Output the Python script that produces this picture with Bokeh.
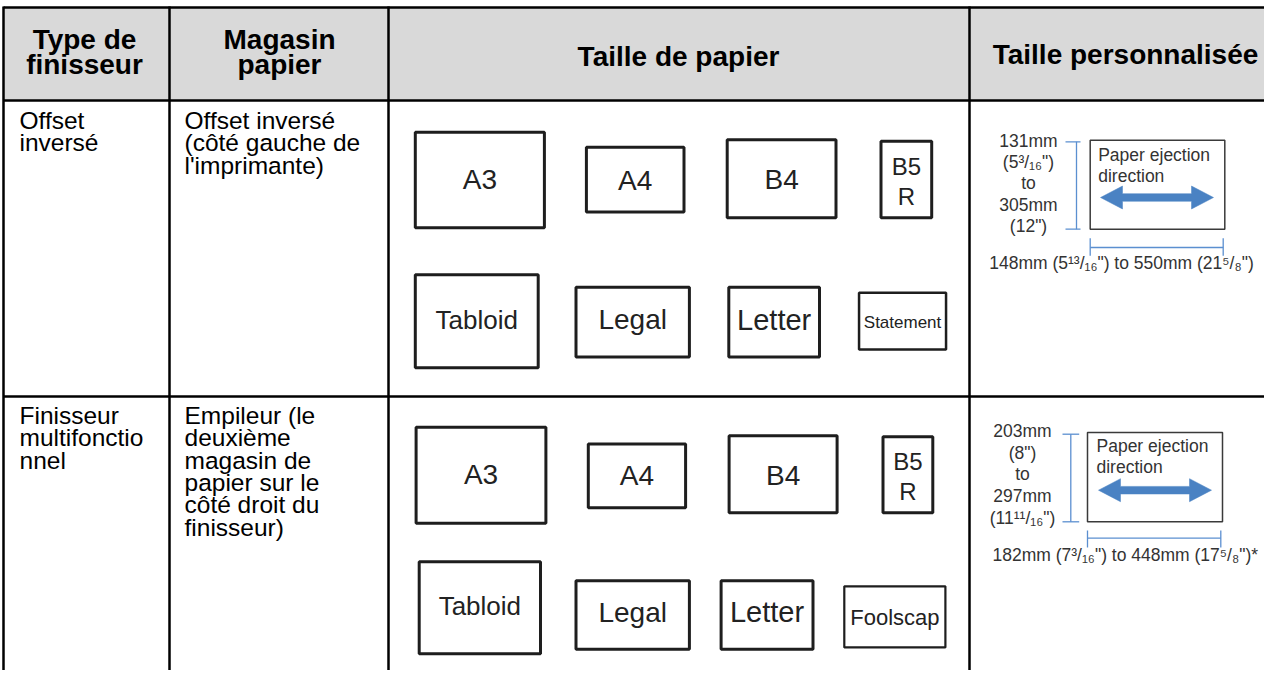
from bokeh.plotting import figure
from bokeh.models import Range1d, ColumnDataSource
from bokeh.core.properties import value
from bokeh.embed import file_html
from bokeh.resources import INLINE

# ---------------- data ----------------
header_lines = [["Type de", "finisseur"], ["Magasin", "papier"],
                ["Taille de papier"], ["Taille personnalisée"]]
finisher_types = [["Offset", "inversé"], ["Finisseur", "multifonctio", "nnel"]]
paper_trays = [["Offset inversé", "(côté gauche de", "l'imprimante)"],
               ["Empileur (le", "deuxième", "magasin de", "papier sur le",
                "côté droit du", "finisseur)"]]
paper_sizes = [["A3", "A4", "B4", "B5\nR", "Tabloid", "Legal", "Letter", "Statement"],
               ["A3", "A4", "B4", "B5\nR", "Tabloid", "Legal", "Letter", "Foolscap"]]
custom_height_text = [["131mm", "(5³/₁₆\")", "to", "305mm", "(12\")"],
                      ["203mm", "(8\")", "to", "297mm", "(11¹¹/₁₆\")"]]
custom_width_text = ["148mm (5¹³/₁₆\") to 550mm (21⁵/₈\")",
                     "182mm (7³/₁₆\") to 448mm (17⁵/₈\")*"]
ejection_text = ["Paper ejection", "direction"]

# ---------------- layout (pixel positions of the table) ----------------
TABLE_LEFT, TABLE_RIGHT = 11, 1290
ROW_LINES = [15, 108, 404]
COL_LINES = [11, 177, 396, 977]
TABLE_BOTTOM = 700

# paper boxes (left, right, top, bottom) per row
box_left = [[421.3, 592.4, 733.2, 887.0, 421.3, 582.0, 734.8, 865.3],
            [422.1, 594.3, 735.1, 889.0, 425.2, 582.0, 727.1, 850.7]]
box_right = [[553.4, 693.0, 845.0, 940.7, 547.2, 698.4, 828.5, 954.8],
             [554.9, 694.6, 846.1, 941.8, 549.5, 698.4, 822.0, 954.0]]
box_top = [[138.3, 153.3, 145.7, 147.3, 280.7, 293.3, 293.3, 299.0],
           [433.3, 450.0, 441.7, 442.7, 567.7, 586.7, 586.7, 592.7]]
box_bottom = [[236.7, 221.0, 226.7, 226.7, 376.7, 366.0, 366.0, 358.3],
              [532.3, 516.7, 521.7, 521.7, 662.7, 658.3, 658.3, 656.0]]
box_lw = [[3, 3, 3, 3, 3, 3, 3, 2.5], [3, 3, 3, 3, 3, 3, 3, 2.2]]
label_base = [[197, 198, 197, 182, 337, 337, 338, 336],
              [492, 493, 493, 477, 623, 630, 630, 633]]
label_size = [[28, 28, 28, 24, 26, 28, 29, 17], [28, 28, 28, 24, 26, 28, 29, 22]]

# custom-size diagrams per row
cz_rect = [(1097.7, 1232.3, 147.7, 236.7), (1095.0, 1230.0, 440.0, 529.3)]
cz_eject_x = [1105.7, 1104.0]
cz_eject_base = [[168.3, 190.0], [459.3, 481.0]]
cz_arrow = [(1108.0, 1221.0, 205.0), (1106.0, 1219.0, 497.7)]
cz_vline = [(1084.0, 149.3, 236.7, 1073.0, 1088.0), (1078.3, 441.7, 529.3, 1070.0, 1086.7)]
cz_hline = [(255.0, 1097.7, 1230.7, 245.7, 263.3), (545.7, 1095.0, 1228.3, 538.0, 555.0)]
cz_htext_x = [1036.0, 1030.0]
cz_htext_base = [[155.0, 176.0, 197.0, 219.0, 240.0], [445.0, 466.7, 487.3, 510.0, 531.7]]
cz_wtext_x = [996.7, 1000.0]
cz_wtext_base = [276.7, 568.3]

FONT = "Liberation Sans"
BLUE = "#4a82c3"
DIM_BLUE = "#5b8fd0"
BASELINE_SHIFT = 0.35   # em offset correcting where the text glyph places its baseline

# ---------------- figure ----------------
W, H = 1264, 670
p = figure(width=W, height=H, x_range=Range1d(8, 8 + W), y_range=Range1d(8 + H, 8),
           output_backend="svg", toolbar_location=None, min_border=0)
p.axis.visible = False
p.grid.visible = False
p.outline_line_color = None
p.background_fill_color = "white"
p.border_fill_color = "white"

# header background
p.quad(left=[TABLE_LEFT], right=[TABLE_RIGHT], top=[ROW_LINES[0]], bottom=[ROW_LINES[1]],
       fill_color="#d9d9d9", line_color=None)

# table lines
p.segment(x0=[TABLE_LEFT] * len(ROW_LINES), x1=[TABLE_RIGHT] * len(ROW_LINES),
          y0=ROW_LINES, y1=ROW_LINES, line_color="black", line_width=2.5)
p.segment(x0=COL_LINES, x1=COL_LINES, y0=[ROW_LINES[0] - 1] * len(COL_LINES),
          y1=[TABLE_BOTTOM] * len(COL_LINES), line_color="black", line_width=2.5)

def add_text(xs, ys, texts, size, align="left", bold=False, color="#000000", font=FONT):
    sizes = size if isinstance(size, list) else [size] * len(xs)
    src = ColumnDataSource(dict(x=xs, y=[y - BASELINE_SHIFT * s for y, s in zip(ys, sizes)],
                                t=texts, s=[f"{v}px" for v in sizes]))
    p.text(x="x", y="y", text="t", source=src, text_font=value(font), text_font_size="s",
           text_align=align, text_baseline="alphabetic", text_color=color,
           text_font_style="bold" if bold else "normal")

# header texts
hdr_x = [92, 287, 686, 1133]
hdr_base = [[57, 82], [57, 81.5], [73.5], [71.5]]
hx, hy, ht = [], [], []
for i, lines in enumerate(header_lines):
    for j, line in enumerate(lines):
        hx.append(hdr_x[i]); hy.append(hdr_base[i][j]); ht.append(line)
add_text(hx, hy, ht, 28, align="center", bold=True)

# body texts
row_base = [[136.5, 159, 181.5], [431.7, 454, 476.5, 498.8, 521, 543.3]]
bx, by, bt = [], [], []
for r in range(2):
    for j, line in enumerate(finisher_types[r]):
        bx.append(27); by.append(row_base[r][j]); bt.append(line)
    for j, line in enumerate(paper_trays[r]):
        bx.append(192); by.append(row_base[r][j]); bt.append(line)
add_text(bx, by, bt, 24.5)

# paper boxes + labels
for r in range(2):
    inset = [w / 2 for w in box_lw[r]]
    p.quad(left=[l + i for l, i in zip(box_left[r], inset)],
           right=[rr - i for rr, i in zip(box_right[r], inset)],
           top=[t + i for t, i in zip(box_top[r], inset)],
           bottom=[b - i for b, i in zip(box_bottom[r], inset)],
           fill_color=None, line_color="#1e1e1e", line_width=box_lw[r])
    lx, ly, lt, ls = [], [], [], []
    for k, lab in enumerate(paper_sizes[r]):
        cx = (box_left[r][k] + box_right[r][k]) / 2
        parts = lab.split("\n")
        for m, part in enumerate(parts):
            lx.append(cx)
            ly.append(label_base[r][k] + m * 30.5)
            lt.append(part)
            ls.append(label_size[r][k])
    add_text(lx, ly, lt, ls, align="center", color="#222222")

# custom size diagrams
for r in range(2):
    l, rgt, t, b = cz_rect[r]
    p.quad(left=[l], right=[rgt], top=[t], bottom=[b], fill_color=None,
           line_color="#3a3a3a", line_width=1.5)
    add_text([cz_eject_x[r]] * 2, cz_eject_base[r], ejection_text, 17.5, color="#333333")
    x0, x1, cy = cz_arrow[r]
    hl, hh, st = 22, 11.5, 3.8
    xs = [x0, x0 + hl, x0 + hl, x1 - hl, x1 - hl, x1, x1 - hl, x1 - hl, x0 + hl, x0 + hl]
    ys = [cy, cy - hh, cy - st, cy - st, cy - hh, cy, cy + hh, cy + st, cy + st, cy + hh]
    p.patch(xs, ys, fill_color=BLUE, line_color=BLUE, line_width=0.5)
    vx, vy0, vy1, tx0, tx1 = cz_vline[r]
    p.segment(x0=[vx, tx0, tx0], x1=[vx, tx1, tx1], y0=[vy0, vy0, vy1], y1=[vy1, vy0, vy1],
              line_color=DIM_BLUE, line_width=1.3)
    hy_, hx0, hx1, ty0, ty1 = cz_hline[r]
    p.segment(x0=[hx0, hx0, hx1], x1=[hx1, hx0, hx1], y0=[hy_, ty0, ty0], y1=[hy_, ty1, ty1],
              line_color=DIM_BLUE, line_width=1.3)
    add_text([cz_htext_x[r]] * 5, cz_htext_base[r], custom_height_text[r], 17.5,
             align="center", color="#333333")
    add_text([cz_wtext_x[r]], [cz_wtext_base[r]], [custom_width_text[r]], 17.5, color="#333333")

open("out.html", "w").write(file_html(p, INLINE))
